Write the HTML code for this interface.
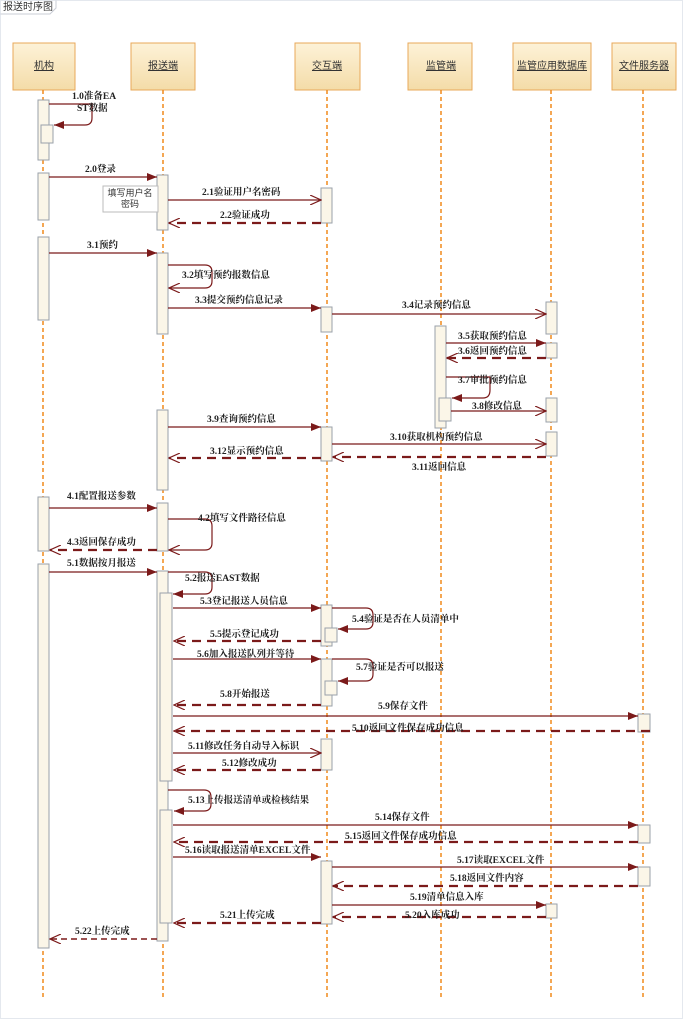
<!DOCTYPE html>
<html><head><meta charset="utf-8"><style>
html,body{margin:0;padding:0;background:#fff;}
svg{display:block;}
text{font-family:"Liberation Serif","Noto Serif CJK SC",serif;font-size:9.5px;font-weight:bold;fill:#222;}
.t{font-family:"Liberation Sans","Noto Sans CJK SC",sans-serif;font-weight:normal;font-size:10px;fill:#333;}
.h{font-family:"Liberation Sans","Noto Sans CJK SC",sans-serif;font-weight:normal;font-size:10px;fill:#333;text-decoration:underline;}
.ll{stroke:#f08a1c;stroke-width:1.5;stroke-dasharray:4,3;}
.act{fill:#fbf6e8;stroke:#9aa0aa;stroke-width:1;}
.m{stroke:#7b1a1a;stroke-width:1.2;fill:none;}
.r{stroke:#7b1a1a;stroke-width:2.2;fill:none;stroke-dasharray:9,6;}
.hd{fill:url(#g);stroke:#e8a85a;stroke-width:1;}
</style></head><body>
<svg width="683" height="1024" viewBox="0 0 683 1024" xmlns="http://www.w3.org/2000/svg">
<defs>
<linearGradient id="g" x1="0" y1="0" x2="0" y2="1"><stop offset="0" stop-color="#fdf2d8"/><stop offset="1" stop-color="#f4dca8"/></linearGradient>
<marker id="f" markerWidth="10" markerHeight="8" refX="10" refY="4" orient="auto" markerUnits="userSpaceOnUse"><path d="M0,0 L10,4 L0,8 z" fill="#7b1a1a"/></marker>
<marker id="o" markerWidth="12" markerHeight="10" refX="11" refY="5" orient="auto" markerUnits="userSpaceOnUse"><path d="M0,0 L11,5 L0,10" fill="none" stroke="#7b1a1a" stroke-width="1.2"/></marker>
</defs>
<rect x="0.5" y="0.5" width="682" height="1018" fill="#fff" stroke="#e4e8ee"/>
<path d="M0.5,14 L50,14 L56,8 L56,0.5" fill="none" stroke="#c8ccd4"/>
<text class="t" x="3" y="10">报送时序图</text>

<rect class="hd" x="13" y="43" width="62" height="47"/><text class="h" x="44" y="69" text-anchor="middle">机构</text>
<rect class="hd" x="131" y="43" width="64" height="47"/><text class="h" x="163" y="69" text-anchor="middle">报送端</text>
<rect class="hd" x="295" y="43" width="65" height="47"/><text class="h" x="327" y="69" text-anchor="middle">交互端</text>
<rect class="hd" x="408" y="43" width="64" height="47"/><text class="h" x="441" y="69" text-anchor="middle">监管端</text>
<rect class="hd" x="513" y="43" width="78" height="47"/><text class="h" x="552" y="69" text-anchor="middle">监管应用数据库</text>
<rect class="hd" x="612" y="43" width="64" height="47"/><text class="h" x="644" y="69" text-anchor="middle">文件服务器</text>

<line class="ll" x1="43" y1="90" x2="43" y2="997"/>
<line class="ll" x1="163" y1="90" x2="163" y2="997"/>
<line class="ll" x1="327" y1="90" x2="327" y2="997"/>
<line class="ll" x1="441" y1="90" x2="441" y2="997"/>
<line class="ll" x1="551" y1="90" x2="551" y2="997"/>
<line class="ll" x1="643" y1="90" x2="643" y2="997"/>

<rect class="act" x="38" y="100" width="11" height="60"/><rect class="act" x="41" y="125" width="12" height="18"/>
<rect class="act" x="38" y="173" width="11" height="47"/>
<rect class="act" x="38" y="237" width="11" height="83"/>
<rect class="act" x="38" y="497" width="11" height="54"/>
<rect class="act" x="38" y="564" width="11" height="384"/>
<rect class="act" x="157" y="175" width="11" height="55"/>
<rect class="act" x="157" y="253" width="11" height="81"/>
<rect class="act" x="157" y="410" width="11" height="80"/>
<rect class="act" x="157" y="503" width="11" height="48"/>
<rect class="act" x="157" y="571" width="11" height="370"/>
<rect class="act" x="160" y="593" width="12" height="188"/>
<rect class="act" x="160" y="810" width="12" height="113"/>
<rect class="act" x="321" y="188" width="11" height="35"/>
<rect class="act" x="321" y="307" width="11" height="25"/>
<rect class="act" x="321" y="427" width="11" height="34"/>
<rect class="act" x="321" y="605" width="11" height="41"/><rect class="act" x="325" y="628" width="12" height="14"/>
<rect class="act" x="321" y="659" width="11" height="47"/><rect class="act" x="325" y="681" width="12" height="14"/>
<rect class="act" x="321" y="739" width="11" height="31"/>
<rect class="act" x="321" y="861" width="11" height="63"/>
<rect class="act" x="435" y="326" width="11" height="102"/><rect class="act" x="439" y="398" width="12" height="23"/>
<rect class="act" x="546" y="302" width="11" height="32"/>
<rect class="act" x="546" y="343" width="11" height="15"/>
<rect class="act" x="546" y="398" width="11" height="24"/>
<rect class="act" x="546" y="432" width="11" height="24"/>
<rect class="act" x="546" y="904" width="11" height="14"/>
<rect class="act" x="638" y="714" width="12" height="18"/>
<rect class="act" x="638" y="825" width="12" height="18"/>
<rect class="act" x="638" y="867" width="12" height="19"/>

<path class="m" d="M49,104 L92,104 L92,118 Q92,125 85,125 L54,125" marker-end="url(#f)"/>
<text x="72" y="99">1.0准备EA</text><text x="77" y="111">ST数据</text>
<line class="m" x1="49" y1="177" x2="157" y2="177" marker-end="url(#f)"/><text x="85" y="172">2.0登录</text>
<rect x="103" y="186" width="55" height="26" fill="#fff" stroke="#bbb"/>
<text class="t" x="130" y="196" text-anchor="middle" style="font-size:9px">填写用户名</text>
<text class="t" x="130" y="207" text-anchor="middle" style="font-size:9px">密码</text>
<line class="m" x1="168" y1="200" x2="321" y2="200" marker-end="url(#o)"/><text x="202" y="195">2.1验证用户名密码</text>
<line class="r" x1="321" y1="223" x2="169" y2="223" marker-end="url(#o)"/><text x="220" y="218">2.2验证成功</text>
<line class="m" x1="49" y1="253" x2="157" y2="253" marker-end="url(#f)"/><text x="87" y="248">3.1预约</text>
<path class="m" d="M168,265 L205,265 Q212,265 212,272 L212,281 Q212,288 205,288 L169,288" marker-end="url(#o)"/><text x="182" y="278">3.2填写预约报数信息</text>
<line class="m" x1="168" y1="308" x2="321" y2="308" marker-end="url(#f)"/><text x="195" y="303">3.3提交预约信息记录</text>
<line class="m" x1="332" y1="314" x2="546" y2="314" marker-end="url(#o)"/><text x="402" y="308">3.4记录预约信息</text>
<line class="m" x1="446" y1="343" x2="546" y2="343" marker-end="url(#f)"/><text x="458" y="339">3.5获取预约信息</text>
<line class="r" x1="546" y1="358" x2="447" y2="358" marker-end="url(#o)"/><text x="458" y="354">3.6返回预约信息</text>
<path class="m" d="M446,377 L490,377 L490,390 Q490,398 483,398 L452,398" marker-end="url(#f)"/><text x="458" y="383">3.7审批预约信息</text>
<line class="m" x1="451" y1="411" x2="546" y2="411" marker-end="url(#o)"/><text x="472" y="409">3.8修改信息</text>
<line class="m" x1="168" y1="427" x2="321" y2="427" marker-end="url(#f)"/><text x="207" y="422">3.9查询预约信息</text>
<line class="m" x1="332" y1="444" x2="546" y2="444" marker-end="url(#o)"/><text x="390" y="440">3.10获取机构预约信息</text>
<line class="r" x1="546" y1="457" x2="333" y2="457" marker-end="url(#o)"/><text x="412" y="470">3.11返回信息</text>
<line class="r" x1="321" y1="458" x2="169" y2="458" marker-end="url(#o)"/><text x="210" y="454">3.12显示预约信息</text>
<line class="m" x1="49" y1="508" x2="157" y2="508" marker-end="url(#f)"/><text x="67" y="499">4.1配置报送参数</text>
<path class="m" d="M168,519 L205,519 Q212,519 212,526 L212,543 Q212,550 205,550 L169,550" marker-end="url(#o)"/><text x="198" y="521">4.2填写文件路径信息</text>
<line class="r" x1="157" y1="550" x2="50" y2="550" marker-end="url(#o)"/><text x="67" y="545">4.3返回保存成功</text>
<line class="m" x1="49" y1="572" x2="157" y2="572" marker-end="url(#f)"/><text x="67" y="566">5.1数据按月报送</text>
<path class="m" d="M168,572 L205,572 Q212,572 212,579 L212,587 Q212,594 205,594 L173,594" marker-end="url(#f)"/><text x="185" y="581">5.2报送EAST数据</text>
<line class="m" x1="173" y1="608" x2="321" y2="608" marker-end="url(#f)"/><text x="200" y="604">5.3登记报送人员信息</text>
<path class="m" d="M332,608 L366,608 Q373,608 373,615 L373,622 Q373,629 366,629 L338,629" marker-end="url(#f)"/><text x="352" y="622">5.4验证是否在人员清单中</text>
<line class="r" x1="321" y1="641" x2="174" y2="641" marker-end="url(#o)"/><text x="210" y="637">5.5提示登记成功</text>
<line class="m" x1="173" y1="659" x2="321" y2="659" marker-end="url(#f)"/><text x="197" y="657">5.6加入报送队列并等待</text>
<path class="m" d="M332,659 L366,659 Q373,659 373,666 L373,674 Q373,681 366,681 L338,681" marker-end="url(#f)"/><text x="356" y="670">5.7验证是否可以报送</text>
<line class="r" x1="321" y1="705" x2="174" y2="705" marker-end="url(#o)"/><text x="220" y="697">5.8开始报送</text>
<line class="m" x1="173" y1="716" x2="638" y2="716" marker-end="url(#f)"/><text x="378" y="709">5.9保存文件</text>
<line class="r" x1="650" y1="731" x2="174" y2="731" marker-end="url(#o)"/><text x="352" y="731">5.10返回文件保存成功信息</text>
<line class="m" x1="173" y1="753" x2="321" y2="753" marker-end="url(#o)"/><text x="188" y="749">5.11修改任务自动导入标识</text>
<line class="r" x1="321" y1="770" x2="174" y2="770" marker-end="url(#o)"/><text x="222" y="766">5.12修改成功</text>
<path class="m" d="M168,790 L204,790 Q211,790 211,797 L211,804 Q211,811 204,811 L174,811" marker-end="url(#f)"/><text x="188" y="803">5.13上传报送清单或检核结果</text>
<line class="m" x1="173" y1="825" x2="638" y2="825" marker-end="url(#f)"/><text x="375" y="820">5.14保存文件</text>
<line class="r" x1="638" y1="842" x2="174" y2="842" marker-end="url(#o)"/><text x="345" y="839">5.15返回文件保存成功信息</text>
<line class="m" x1="173" y1="857" x2="321" y2="857" marker-end="url(#f)"/><text x="185" y="853">5.16读取报送清单EXCEL文件</text>
<line class="m" x1="332" y1="867" x2="638" y2="867" marker-end="url(#f)"/><text x="457" y="863">5.17读取EXCEL文件</text>
<line class="r" x1="638" y1="886" x2="333" y2="886" marker-end="url(#o)"/><text x="450" y="881">5.18返回文件内容</text>
<line class="m" x1="332" y1="905" x2="546" y2="905" marker-end="url(#f)"/><text x="410" y="900">5.19清单信息入库</text>
<line class="r" x1="546" y1="917" x2="333" y2="917" marker-end="url(#o)"/><text x="405" y="918">5.20入库成功</text>
<line class="r" x1="321" y1="923" x2="174" y2="923" marker-end="url(#o)"/><text x="220" y="918">5.21上传完成</text>
<line class="m" x1="157" y1="939" x2="50" y2="939" marker-end="url(#o)" style="stroke-dasharray:6,4;stroke-width:1.5"/><text x="75" y="934">5.22上传完成</text>
</svg>
</body></html>
